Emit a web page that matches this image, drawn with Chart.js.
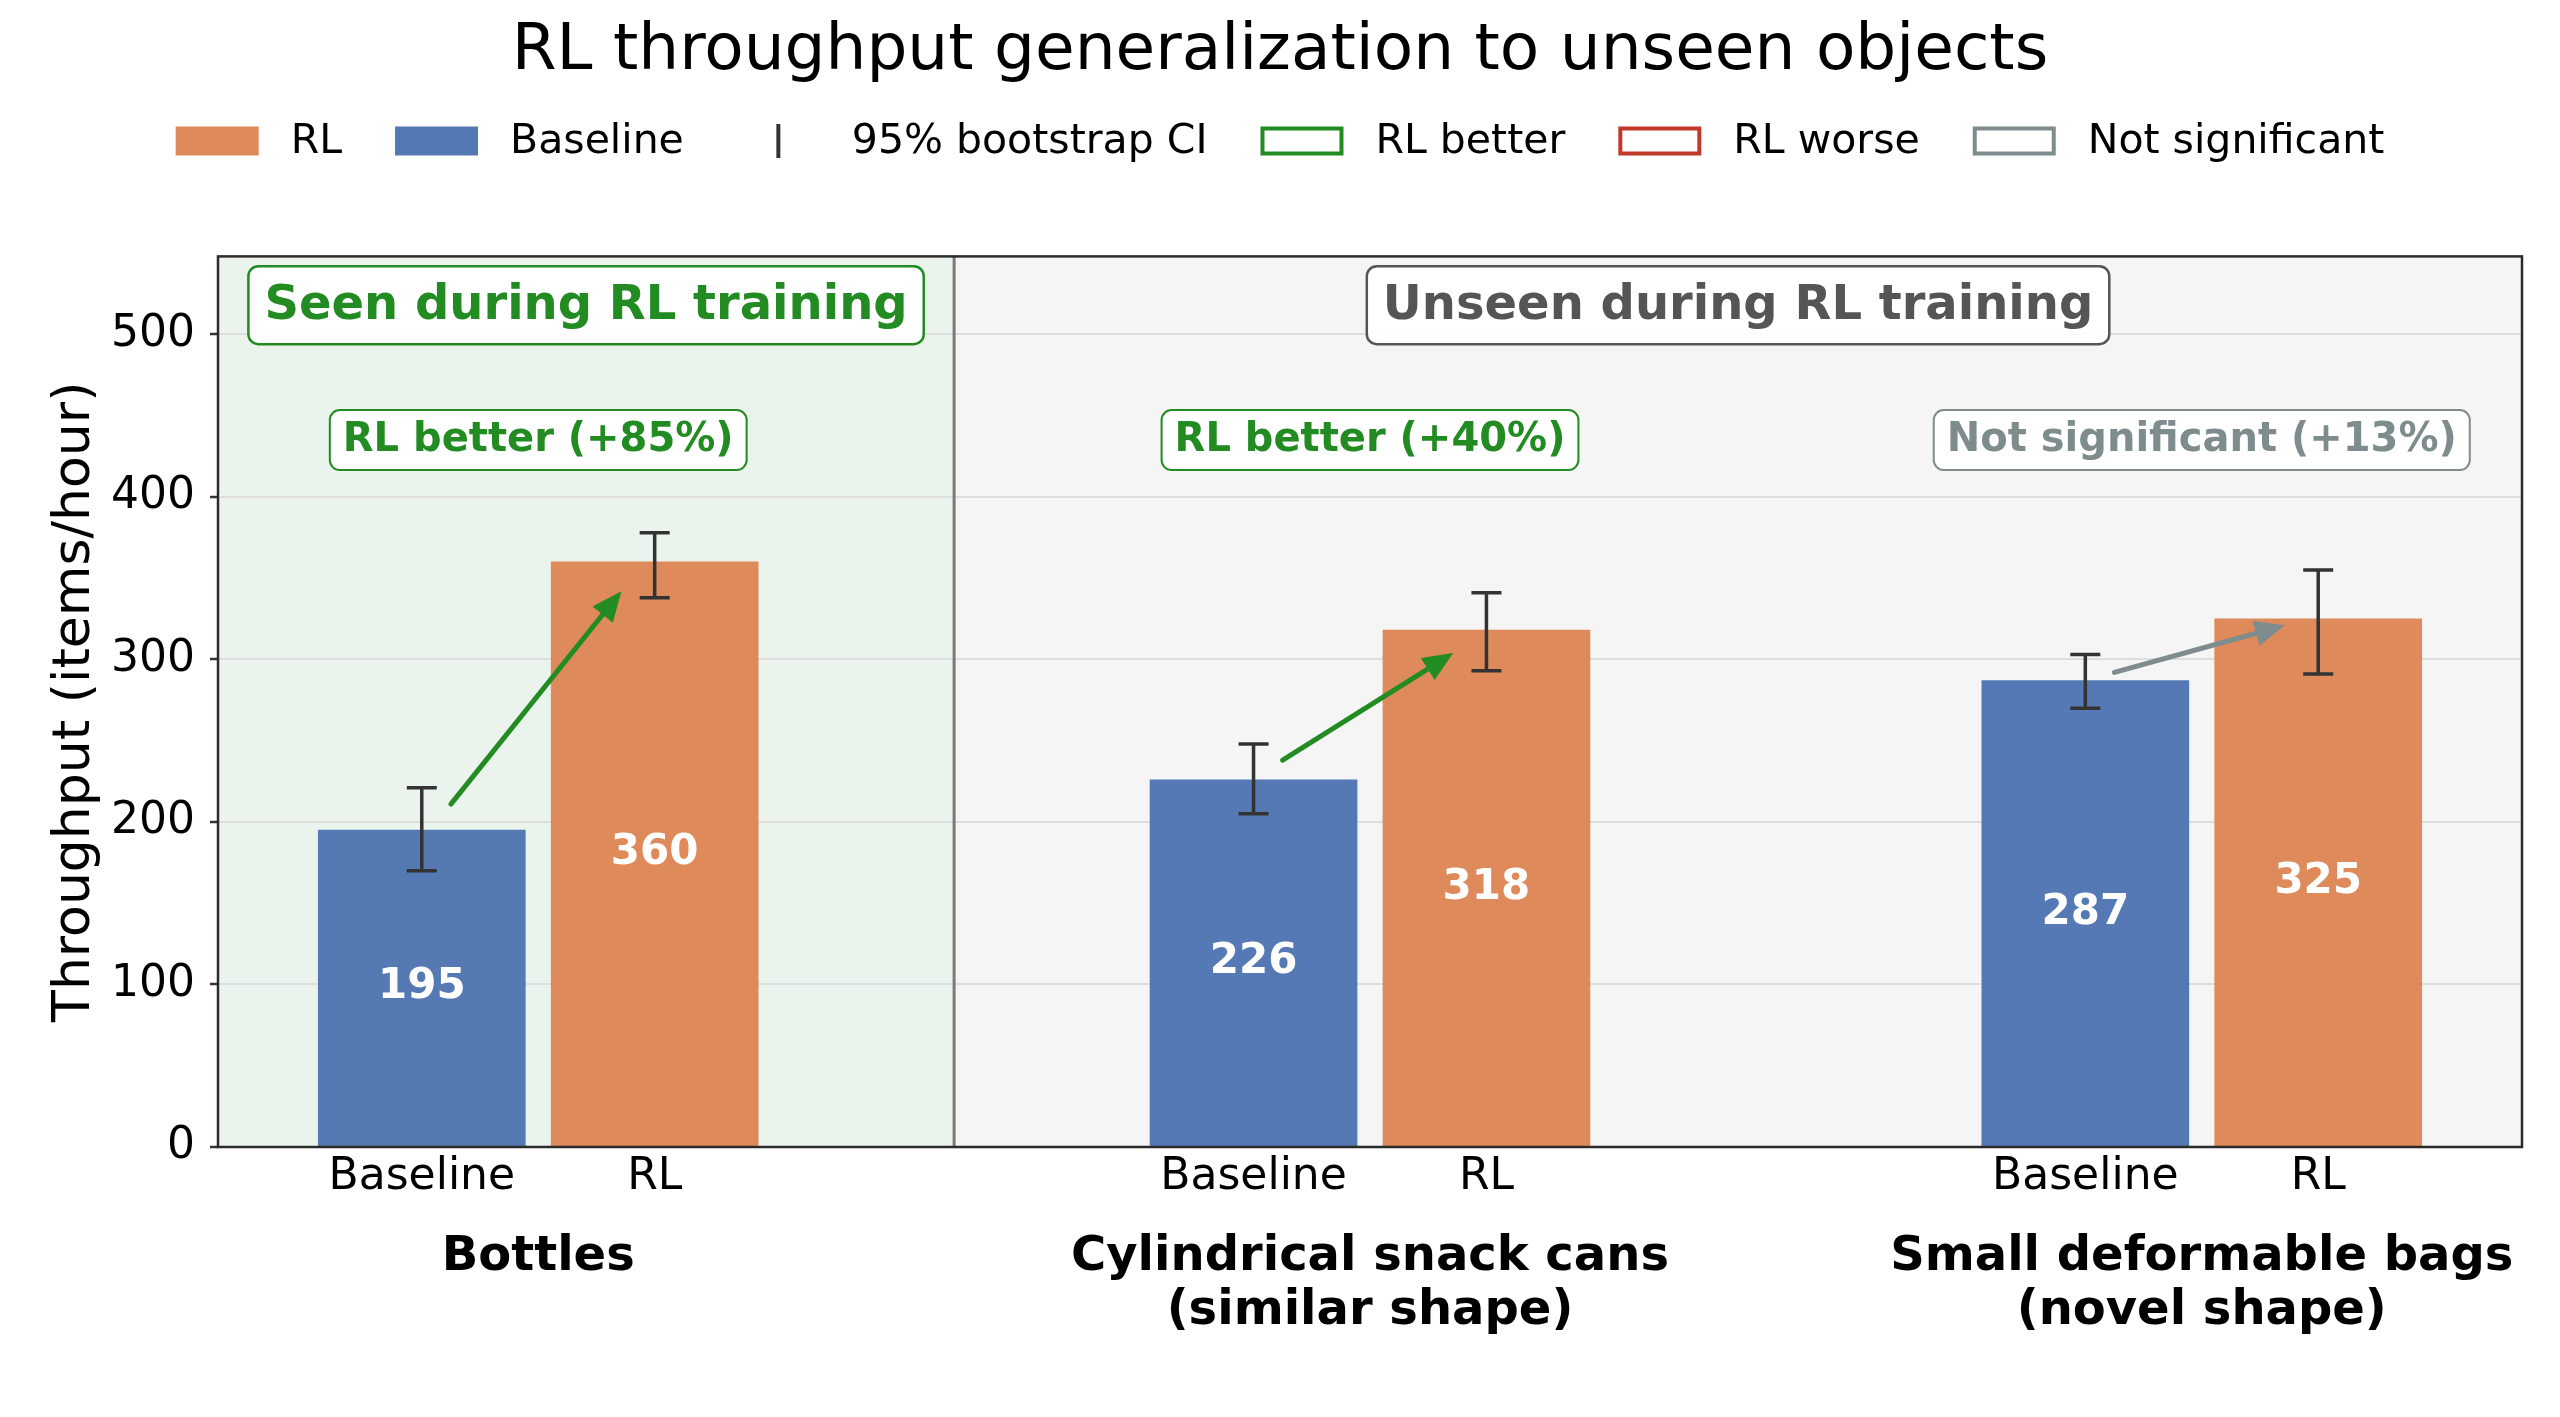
<!DOCTYPE html>
<html><head><meta charset="utf-8">
<script src="https://cdn.jsdelivr.net/npm/chart.js@4.4.0/dist/chart.umd.min.js"></script>
<style>html,body{margin:0;padding:0;background:#fff;} #wrap{width:2560px;height:1417px;}</style>
</head><body><div id="wrap"><canvas id="c" width="2560" height="1417"></canvas></div>
<script>
// ---------------- data ----------------
const groups = [['Bottles'], ['Cylindrical snack cans', '(similar shape)'], ['Small deformable bags', '(novel shape)']];
const methods = ['Baseline', 'RL'];
const baselineValues = [195, 226, 287];
const rlValues = [360, 318, 325];
const baselineCiLow = [170, 205, 270];
const baselineCiHigh = [221, 248, 303];
const rlCiLow = [338, 293, 291];
const rlCiHigh = [378, 341, 355];
const verdictTexts = ['RL better (+85%)', 'RL better (+40%)', 'Not significant (+13%)'];
const verdictKinds = ['better', 'better', 'ns'];
const arrowStartValues = [211, 238, 292];
const arrowEndValues = [342, 304, 321];
const regionLabels = ['Seen during RL training', 'Unseen during RL training'];
const legendLabels = ['RL', 'Baseline', '95% bootstrap CI', 'RL better', 'RL worse', 'Not significant'];
const chartTitle = 'RL throughput generalization to unseen objects';
const yAxisTitle = 'Throughput (items/hour)';

// ---------------- style ----------------
const FONT = "'DejaVu Sans', sans-serif";
const X_MIN = -0.385, X_MAX = 2.385, Y_MAX = 548, DIVIDER = 0.5, OFF = 0.14;
const BLUE = 'rgba(76,114,176,0.95)', ORANGE = 'rgba(221,132,82,0.95)';
const GREEN = '#228B22', RED = '#c0392b', GRAY = '#7f8c8d', DARK = '#555555';
const kindColor = {better: GREEN, worse: RED, ns: GRAY};
const groupPos = groups.map((g, i) => i);

const decor = {
  id: 'decor',
  beforeDraw(chart) {
    const {ctx, chartArea: a, scales: {x}} = chart;
    const xd = x.getPixelForValue(DIVIDER);
    ctx.save();
    ctx.fillStyle = '#eaf4ec';
    ctx.fillRect(a.left, a.top, xd - a.left, a.bottom - a.top);
    ctx.fillStyle = '#f5f5f5';
    ctx.fillRect(xd, a.top, a.right - xd, a.bottom - a.top);
    ctx.restore();
  },
  afterDatasetsDraw(chart) {
    const {ctx, chartArea: a, scales: {x, y}} = chart;
    ctx.save();
    // divider
    const xd = x.getPixelForValue(DIVIDER);
    ctx.strokeStyle = '#7a7a7a'; ctx.lineWidth = 3;
    ctx.beginPath(); ctx.moveTo(xd, a.top); ctx.lineTo(xd, a.bottom); ctx.stroke();
    // value labels
    ctx.fillStyle = '#ffffff';
    ctx.font = `bold 42px ${FONT}`;
    ctx.textAlign = 'center'; ctx.textBaseline = 'middle';
    groupPos.forEach((g, i) => {
      ctx.fillText(String(baselineValues[i]), x.getPixelForValue(g - OFF), y.getPixelForValue(baselineValues[i] / 2) - 1);
      ctx.fillText(String(rlValues[i]), x.getPixelForValue(g + OFF), y.getPixelForValue(rlValues[i] / 2) - 1);
    });
    // error bars
    ctx.strokeStyle = '#333333'; ctx.lineWidth = 3.5; ctx.lineCap = 'butt';
    const eb = (xv, lo, hi) => {
      const px = x.getPixelForValue(xv), y1 = y.getPixelForValue(lo), y2 = y.getPixelForValue(hi);
      ctx.beginPath();
      ctx.moveTo(px, y1); ctx.lineTo(px, y2);
      ctx.moveTo(px - 15, y1); ctx.lineTo(px + 15, y1);
      ctx.moveTo(px - 15, y2); ctx.lineTo(px + 15, y2);
      ctx.stroke();
    };
    groupPos.forEach((g, i) => {
      eb(g - OFF, baselineCiLow[i], baselineCiHigh[i]);
      eb(g + OFF, rlCiLow[i], rlCiHigh[i]);
    });
    // arrows
    groupPos.forEach((g, i) => {
      const col = kindColor[verdictKinds[i]];
      const x1 = x.getPixelForValue(g - 0.105), y1 = y.getPixelForValue(arrowStartValues[i]);
      const x2 = x.getPixelForValue(g + 0.10), y2 = y.getPixelForValue(arrowEndValues[i]);
      const ang = Math.atan2(y2 - y1, x2 - x1);
      const hl = 30, hw = 13;
      const bx = x2 - hl * Math.cos(ang), by = y2 - hl * Math.sin(ang);
      ctx.strokeStyle = col; ctx.fillStyle = col; ctx.lineWidth = 5; ctx.lineCap = 'round';
      ctx.beginPath(); ctx.moveTo(x1, y1); ctx.lineTo(bx + 4 * Math.cos(ang), by + 4 * Math.sin(ang)); ctx.stroke();
      ctx.beginPath();
      ctx.moveTo(x2, y2);
      ctx.lineTo(bx + hw * Math.sin(ang), by - hw * Math.cos(ang));
      ctx.lineTo(bx - hw * Math.sin(ang), by + hw * Math.cos(ang));
      ctx.closePath(); ctx.fill();
    });
    // frame
    ctx.strokeStyle = '#2b2b2b'; ctx.lineWidth = 2.5;
    ctx.strokeRect(a.left, a.top, a.right - a.left, a.bottom - a.top);
    // boxes
    const box = (text, cx, cy, size, color, pad, h, lw) => {
      ctx.font = `bold ${size}px ${FONT}`;
      const w = ctx.measureText(text).width + 2 * pad;
      ctx.beginPath();
      ctx.roundRect(cx - w / 2, cy - h / 2, w, h, 10);
      ctx.fillStyle = 'rgba(255,255,255,0.92)'; ctx.fill();
      ctx.strokeStyle = color; ctx.lineWidth = lw; ctx.stroke();
      ctx.fillStyle = color; ctx.textAlign = 'center'; ctx.textBaseline = 'middle';
      ctx.fillText(text, cx, cy + 1);
    };
    const ry = y.getPixelForValue(518);
    box(regionLabels[0], x.getPixelForValue((X_MIN + DIVIDER) / 2), ry, 48, GREEN, 16, 78, 2.5);
    box(regionLabels[1], x.getPixelForValue((DIVIDER + X_MAX) / 2), ry, 48, DARK, 16, 78, 2.5);
    groupPos.forEach((g, i) => {
      box(verdictTexts[i], x.getPixelForValue(g), y.getPixelForValue(435), 40, kindColor[verdictKinds[i]], 13, 60, 2);
    });
    ctx.restore();
  },
  afterDraw(chart) {
    const {ctx} = chart;
    ctx.save();
    ctx.font = `41px ${FONT}`;
    const HW = 83, HH = 29, GAP_T = 32, GAP_C = 53, cy = 141;
    const widths = legendLabels.map(t => ctx.measureText(t).width);
    const total = widths.reduce((s, w) => s + HW + GAP_T + w, 0) + GAP_C * (legendLabels.length - 1);
    let xx = 1280 - total / 2;
    const kinds = [
      {fill: ORANGE}, {fill: BLUE}, {ci: true},
      {stroke: GREEN}, {stroke: RED}, {stroke: GRAY}
    ];
    legendLabels.forEach((t, i) => {
      const k = kinds[i];
      if (k.fill) { ctx.fillStyle = k.fill; ctx.fillRect(xx, cy - HH / 2, HW, HH); }
      else if (k.stroke) { ctx.strokeStyle = k.stroke; ctx.lineWidth = 4; ctx.strokeRect(xx + 2, cy - HH / 2 + 2, HW - 4, HH - 4); }
      else { ctx.strokeStyle = '#333333'; ctx.lineWidth = 4; ctx.beginPath(); ctx.moveTo(xx + HW / 2, cy - 17); ctx.lineTo(xx + HW / 2, cy + 17); ctx.stroke(); }
      ctx.fillStyle = '#000'; ctx.textAlign = 'left'; ctx.textBaseline = 'middle';
      ctx.fillText(t, xx + HW + GAP_T, cy + 1);
      xx += HW + GAP_T + widths[i] + GAP_C;
    });
    ctx.restore();
  }
};

new Chart(document.getElementById('c'), {
  type: 'bar',
  data: {
    datasets: [
      {label: methods[0], data: baselineValues.map((v, i) => ({x: groupPos[i] - OFF, y: v})), backgroundColor: BLUE, borderWidth: 0},
      {label: methods[1], data: rlValues.map((v, i) => ({x: groupPos[i] + OFF, y: v})), backgroundColor: ORANGE, borderWidth: 0}
    ]
  },
  options: {
    responsive: false, animation: false,
    layout: {padding: 0},
    datasets: {bar: {grouped: false, barThickness: 207}},
    plugins: {
      legend: {display: false}, tooltip: {enabled: false},
      title: {display: true, text: chartTitle, color: '#000', font: {family: FONT, size: 64.5, weight: 'normal'}, padding: {top: 14, bottom: 165}}
    },
    scales: {
      x: {
        type: 'linear', position: 'bottom', min: X_MIN, max: X_MAX, offset: false,
        grid: {display: false, drawTicks: false, offset: false}, border: {display: false},
        afterBuildTicks: s => { s.ticks = []; groupPos.forEach(g => { s.ticks.push({value: g - OFF}); s.ticks.push({value: g + OFF}); }); },
        ticks: {callback: (v, i) => methods[i % 2], color: '#000', font: {family: FONT, size: 44}, padding: 4, autoSkip: false, maxRotation: 0, minRotation: 0},
        afterFit: s => { s.height = 54; }
      },
      x2: {
        type: 'linear', position: 'bottom', min: X_MIN, max: X_MAX, offset: false,
        grid: {display: false, drawTicks: false, offset: false}, border: {display: false},
        afterBuildTicks: s => { s.ticks = groupPos.map(g => ({value: g})); },
        ticks: {callback: (v, i) => groups[i], color: '#000', font: {family: FONT, size: 48, weight: 'bold', lineHeight: 1.125}, padding: 30, autoSkip: false, maxRotation: 0, minRotation: 0},
        afterFit: s => { s.height = 216; }
      },
      y: {
        min: 0, max: Y_MAX,
        ticks: {stepSize: 100, includeBounds: false, color: '#000', font: {family: FONT, size: 44}, padding: 15},
        grid: {color: '#dddddd', lineWidth: 2, tickLength: 8, tickColor: '#333333', tickWidth: 2.5},
        border: {display: false},
        title: {display: true, text: yAxisTitle, color: '#000', font: {family: FONT, size: 52}, padding: {top: 44, bottom: 0}},
        afterFit: s => { s.width = 218; }
      },
      yRight: {
        position: 'right', min: 0, max: Y_MAX, display: true,
        ticks: {display: false}, grid: {display: false, drawTicks: false}, border: {display: false},
        afterFit: s => { s.width = 38; }
      }
    }
  },
  plugins: [decor]
});
</script>
</body></html>
